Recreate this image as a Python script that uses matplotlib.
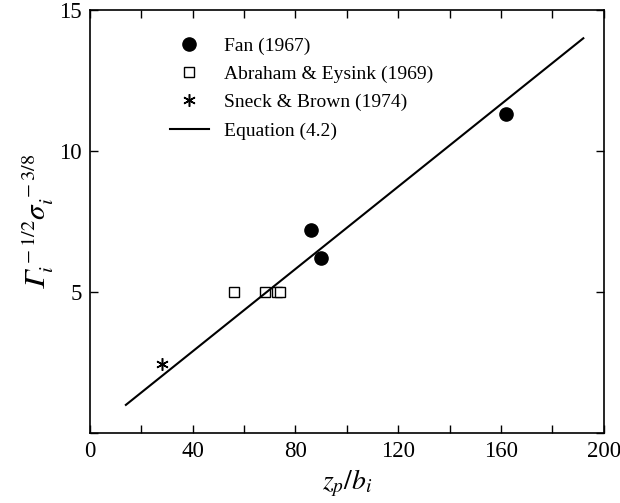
import matplotlib
matplotlib.use("Agg")
import matplotlib.pyplot as plt
from matplotlib.ticker import FixedLocator, FuncFormatter

plt.rcParams['font.family'] = ['Liberation Serif', 'DejaVu Serif']
plt.rcParams['mathtext.fontset'] = 'stix'

# Data
fan_x = [86, 90, 162]
fan_y = [7.2, 6.2, 11.3]
abr_x = [56, 68, 72.9, 74]
abr_y = [5.0, 5.0, 5.0, 5.0]
sneck_x = [28]
sneck_y = [2.45]
eq_x = [14, 192]
eq_y = [1.0, 14.0]

x_ticks = list(range(0, 201, 20))
y_ticks = [0, 5, 10, 15]

fig = plt.figure(figsize=(6.2, 5.03), dpi=100)
ax = fig.add_axes([0.145, 0.139, 0.829, 0.841])

ax.plot(fan_x, fan_y, 'o', color='black', markersize=9.5, label='Fan (1967)')
ax.plot(abr_x, abr_y, 's', markerfacecolor='white', markeredgecolor='black',
        markersize=7, markeredgewidth=1.0, label='Abraham & Eysink (1969)')
ax.plot(sneck_x, sneck_y, marker=(6, 2, 0), linestyle='none', color='black',
        markersize=9, markeredgewidth=1.1, label='Sneck & Brown (1974)')
ax.plot(eq_x, eq_y, '-', color='black', linewidth=1.5, label='Equation (4.2)')

ax.set_xlim(0, 200)
ax.set_ylim(0, 15)
ax.xaxis.set_major_locator(FixedLocator(x_ticks))
ax.xaxis.set_major_formatter(FuncFormatter(lambda v, p: f"{int(v)}" if int(v) % 40 == 0 else ""))
ax.yaxis.set_major_locator(FixedLocator(y_ticks))
ax.yaxis.set_major_formatter(FuncFormatter(lambda v, p: f"{int(v)}" if v > 0 else ""))
ax.tick_params(direction='in', top=True, right=True, length=6, width=1.0,
               labelsize=16.5, pad=6)
for s in ax.spines.values():
    s.set_linewidth(1.2)

ax.set_xlabel(r'$z_p/b_i$', fontsize=20, labelpad=4)
ax.set_ylabel('$\U0001D6E4_i^{\\,-1/2}\\sigma_i^{\\,-3/8}$', fontsize=21, labelpad=2)

ax.legend(loc='upper left', bbox_to_anchor=(0.14, 0.955), frameon=False,
          fontsize=14, handlelength=2.0, handletextpad=0.8, labelspacing=0.55,
          borderaxespad=0)

fig.savefig('out.png', dpi=100)
